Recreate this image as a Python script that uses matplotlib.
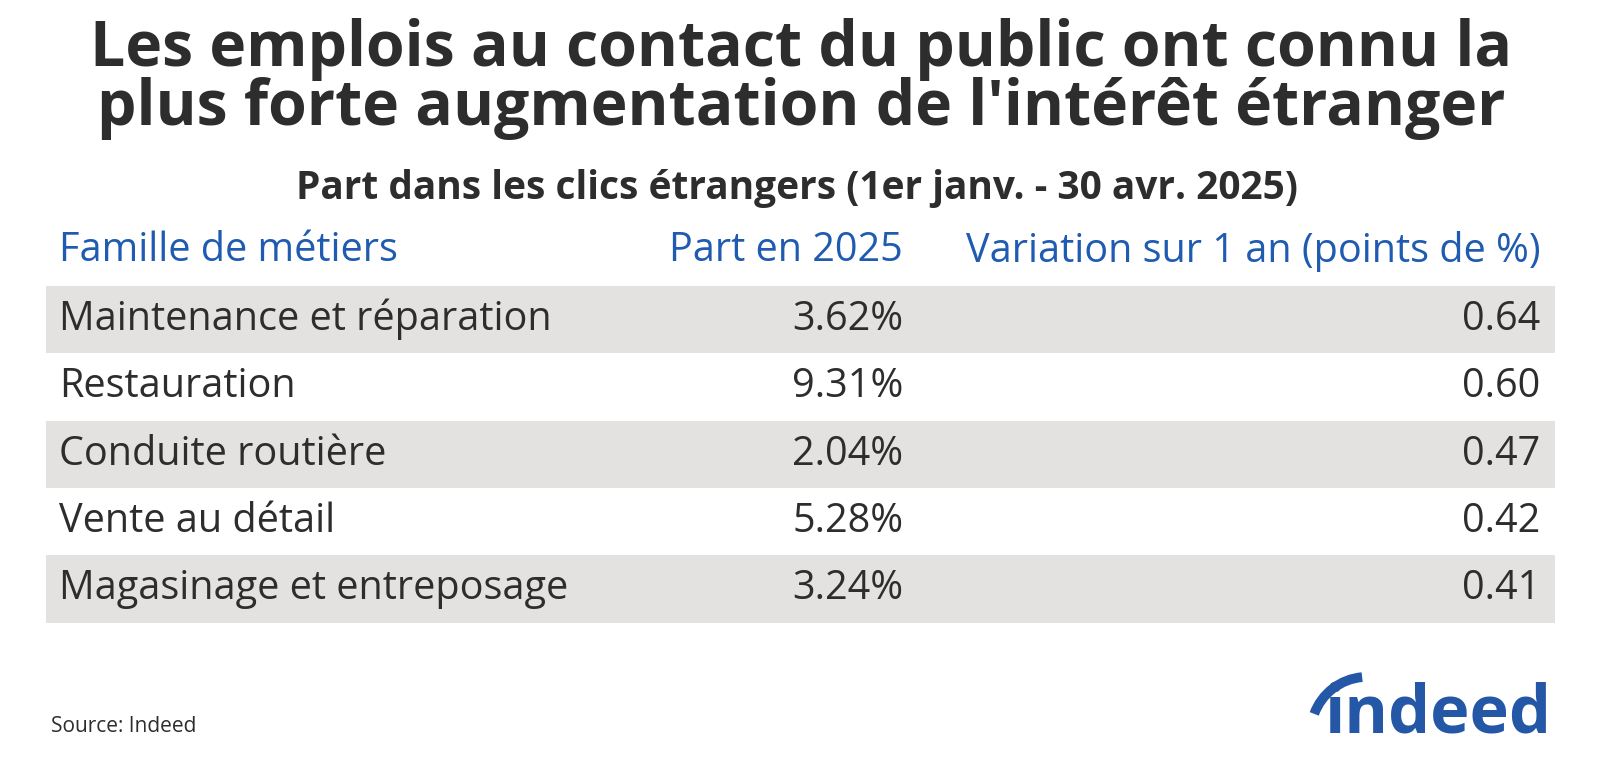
import matplotlib.pyplot as plt
from matplotlib.patches import Arc

# ---- data ----
familles = ["Maintenance et réparation", "Restauration", "Conduite routière",
            "Vente au détail", "Magasinage et entreposage"]
part_2025 = [3.62, 9.31, 2.04, 5.28, 3.24]
variation = [0.64, 0.60, 0.47, 0.42, 0.41]
headers = ["Famille de métiers", "Part en 2025", "Variation sur 1 an (points de %)"]

plt.rcParams['font.family'] = 'Open Sans'
dark = '#2d2d2d'
blue = '#1f5bb0'

fig = plt.figure(figsize=(16, 7.77), dpi=100)
ax = fig.add_axes([0, 0, 1, 1])
ax.set_xlim(0, 1566)
ax.set_ylim(761, 0)
ax.axis('off')

ax.text(784, 48, "Les emplois au contact du public ont connu la", ha='center', va='center',
        fontsize=45, fontweight='bold', color=dark)
ax.text(784, 106, "plus forte augmentation de l'intérêt étranger", ha='center', va='center',
        fontsize=45, fontweight='bold', color=dark)
ax.text(780, 185, "Part dans les clics étrangers (1er janv. - 30 avr. 2025)", ha='center',
        va='center', fontsize=28, fontweight='bold', color=dark)

fs = 28.5
# en-têtes
ax.text(58, 246, headers[0], ha='left', va='center', fontsize=fs, color=blue)
ax.text(884, 246, headers[1], ha='right', va='center', fontsize=fs, color=blue)
ax.text(1508, 246, headers[2], ha='right', va='center', fontsize=fs, color=blue)

row_h = 66
y0 = 280
ys = [y0 + row_h * (i + 0.5) for i in range(len(familles))]
colors = ['#e3e2e0' if i % 2 == 0 else 'white' for i in range(len(familles))]
ax.barh(ys, 1477, left=45, height=row_h, color=colors, edgecolor='none')

for y, f, p, v in zip(ys, familles, part_2025, variation):
    ax.text(58, y, f, ha='left', va='center', fontsize=fs, color=dark)
    ax.text(884, y, f"{p:.2f}%", ha='right', va='center', fontsize=fs, color=dark)
    ax.text(1508, y, f"{v:.2f}", ha='right', va='center', fontsize=fs, color=dark)

ax.text(50, 712, "Source: Indeed", ha='left', va='center', fontsize=15, color=dark)

# logo
ax.text(1518, 700, "indeed", ha='right', va='center', fontsize=48, fontweight='bold',
        color='#2557a7')
ax.add_patch(Arc((1338, 718), 110, 110, theta1=200, theta2=265, color='#2557a7', lw=7))

fig.savefig('out.png', dpi=100)
